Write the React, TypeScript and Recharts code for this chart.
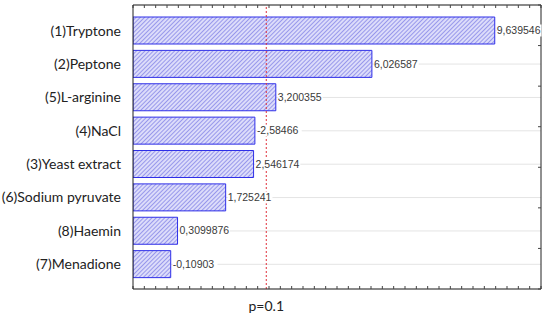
import React from "react";
import {
  BarChart, Bar, XAxis, YAxis, CartesianGrid, ReferenceLine, LabelList,
} from "recharts";

// factors in the order they appear (top to bottom)
const factors = [
  "(1)Tryptone", "(2)Peptone", "(5)L-arginine", "(4)NaCl",
  "(3)Yeast extract", "(6)Sodium pyruvate", "(8)Haemin", "(7)Menadione",
];
// absolute standardized effects (bar length)
const effects = [9.639546, 6.026587, 3.200355, 2.58466, 2.546174, 1.725241, 0.3099876, 0.10903];
// printed labels (signed, comma decimal)
const effectLabels = ["9,639546", "6,026587", "3,200355", "-2,58466", "2,546174", "1,725241", "0,3099876", "-0,10903"];

const axisMin = -1;
const axisMax = 11;
const pCritical = 2.92;
const pLabel = "p=0.1";

// unlabelled minor ticks, every 1/3 unit
const minorTicks: number[] = [];
for (let i = 0; i <= (axisMax - axisMin) * 3; i++) minorTicks.push(axisMin + i / 3);
const rightTicks: number[] = [];
for (let i = 0; i <= 35; i++) rightTicks.push(i);

const data = factors.map((name, i) => ({
  name,
  range: [axisMin, effects[i]],
  label: effectLabels[i],
}));

const BAR_STROKE = "#2f2fe8";
const noText = () => "";

function ValueLabel(props: any) {
  const { x, y, width, height, value } = props;
  const tx = x + width + 2;
  const ty = y + height / 2;
  const w = String(value).length * 5.6;
  return (
    <g>
      <rect x={tx} y={ty - 6} width={w} height={12} fill="#fff" />
      <text x={tx} y={ty} dy="0.35em" fontSize={10.5} fill="#3a3a3a" fontFamily="'Liberation Sans', Arial, sans-serif">
        {value}
      </text>
    </g>
  );
}

function FactorTick(props: any) {
  const { x, y, payload } = props;
  return (
    <text x={x} y={y} dy="0.35em" textAnchor="end" fontSize={14} fill="#222" fontFamily="Lato, sans-serif">
      {payload.value}
    </text>
  );
}

function PLabel(props: any) {
  const vb = props.viewBox || {};
  return (
    <text x={vb.x} y={(vb.y ?? 0) + (vb.height ?? 0) + 22} textAnchor="middle" fontSize={14} fill="#222" fontFamily="Lato, sans-serif">
      {pLabel}
    </text>
  );
}

export default function App() {
  return (
    <div style={{ position: "absolute", left: 0, top: 0, width: 550, height: 320, background: "#fff" }}>
      <BarChart
        width={550}
        height={320}
        data={data}
        layout="vertical"
        margin={{ top: 5, right: 9, bottom: 31, left: 0 }}
        barSize={27}
      >
        <defs>
          <pattern id="hatch" width={3} height={3} patternUnits="userSpaceOnUse" patternTransform="rotate(45)">
            <rect width={3} height={3} fill="#dcdcfa" />
            <line x1={0} y1={0} x2={0} y2={3} stroke="#6a6ae2" strokeWidth={1.2} />
          </pattern>
        </defs>
        <CartesianGrid vertical={false} stroke="#e4e4e4" />
        <XAxis
          type="number"
          domain={[axisMin, axisMax]}
          ticks={minorTicks}
          allowDataOverflow
          mirror
          tickFormatter={noText}
          tickSize={3}
          axisLine={{ stroke: "#222" }}
          tickLine={{ stroke: "#444" }}
        />
        <XAxis
          xAxisId="top"
          orientation="top"
          type="number"
          domain={[axisMin, axisMax]}
          ticks={minorTicks}
          allowDataOverflow
          mirror
          tickFormatter={noText}
          tickSize={3}
          axisLine={{ stroke: "#222" }}
          tickLine={{ stroke: "#444" }}
        />
        <YAxis
          type="category"
          dataKey="name"
          width={133}
          padding={{ top: 9, bottom: 8 }}
          tick={<FactorTick />}
          tickLine={false}
          tickSize={0}
          tickMargin={12}
          axisLine={{ stroke: "#222" }}
          interval={0}
        />
        <YAxis
          yAxisId="right"
          orientation="right"
          type="number"
          domain={[0, 35.5]}
          ticks={rightTicks}
          mirror
          tickFormatter={noText}
          tickSize={3}
          axisLine={{ stroke: "#222" }}
          tickLine={{ stroke: "#444" }}
        />
        <Bar
          dataKey="range"
          fill="url(#hatch)"
          stroke={BAR_STROKE}
          strokeWidth={1}
          isAnimationActive={false}
        >
          <LabelList dataKey="label" content={<ValueLabel />} />
        </Bar>
        <ReferenceLine
          x={pCritical}
          stroke="#e0303a"
          strokeDasharray="2 2"
          strokeWidth={1}
          label={<PLabel />}
        />
      </BarChart>
    </div>
  );
}
